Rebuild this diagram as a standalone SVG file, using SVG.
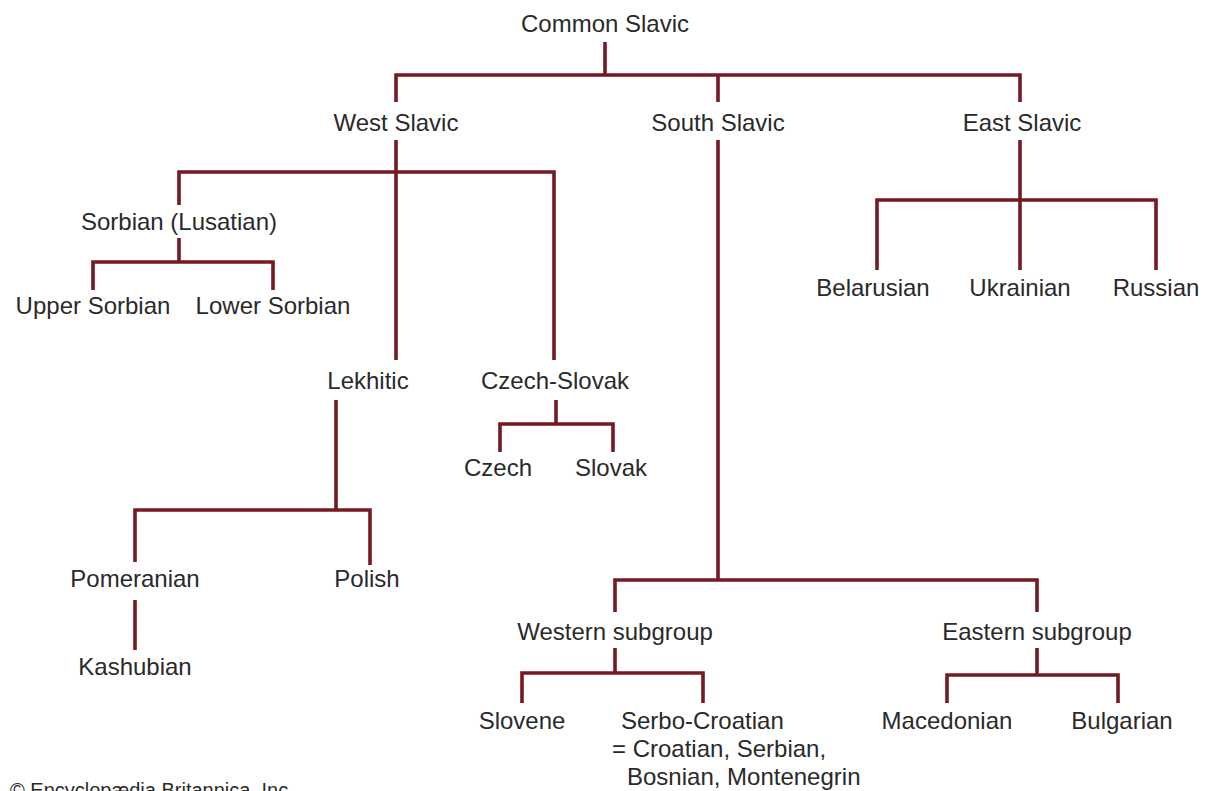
<svg xmlns="http://www.w3.org/2000/svg" width="1212" height="791" viewBox="0 0 1212 791">
<style>
.t{font-family:"Liberation Sans",Arial,sans-serif;font-size:24px;fill:#2a2a2a;text-anchor:middle}
.s{text-anchor:start}
.c{font-family:"Liberation Sans",Arial,sans-serif;font-size:20px;fill:#2a2a2a}
.l{fill:none;stroke:#761a22;stroke-width:3.6;stroke-linecap:butt;stroke-linejoin:miter}
</style>
<rect width="1212" height="791" fill="#fff"/>
<g id="connectors" class="l">
<path d="M605 42V75M396 102V75H1020V102M718 75V102"/>
<path d="M396 140V360M179 205V172H554V360"/>
<path d="M179 238V262M93 290V262H273V290"/>
<path d="M556 400V424M500 452V424H613V452"/>
<path d="M336 400V510M135 562V510H370V565"/>
<path d="M135 600V650"/>
<path d="M718 140V580M615 612V580H1037V612"/>
<path d="M615 648V673M522 703V673H703V703"/>
<path d="M1037 648V675M947 703V675H1118V703"/>
<path d="M1020 140V270M877 270V200H1156V270"/>
</g>
<g id="n-common"><text class="t" x="605" y="32">Common Slavic</text></g>
<g id="n-west"><text class="t" x="396" y="131">West Slavic</text></g>
<g id="n-south"><text class="t" x="718" y="131">South Slavic</text></g>
<g id="n-east"><text class="t" x="1022" y="131">East Slavic</text></g>
<g id="n-sorbian"><text class="t" x="179" y="230">Sorbian (Lusatian)</text></g>
<g id="n-upper"><text class="t" x="93" y="314">Upper Sorbian</text></g>
<g id="n-lower"><text class="t" x="273" y="314">Lower Sorbian</text></g>
<g id="n-lekhitic"><text class="t" x="368" y="389">Lekhitic</text></g>
<g id="n-czechslovak"><text class="t" x="555" y="389">Czech-Slovak</text></g>
<g id="n-czech"><text class="t" x="498" y="476">Czech</text></g>
<g id="n-slovak"><text class="t" x="611" y="476">Slovak</text></g>
<g id="n-pomeranian"><text class="t" x="135" y="587">Pomeranian</text></g>
<g id="n-polish"><text class="t" x="367" y="587">Polish</text></g>
<g id="n-kashubian"><text class="t" x="135" y="675">Kashubian</text></g>
<g id="n-belarusian"><text class="t" x="873" y="296">Belarusian</text></g>
<g id="n-ukrainian"><text class="t" x="1020" y="296">Ukrainian</text></g>
<g id="n-russian"><text class="t" x="1156" y="296">Russian</text></g>
<g id="n-western"><text class="t" x="615" y="640">Western subgroup</text></g>
<g id="n-eastern"><text class="t" x="1037" y="640">Eastern subgroup</text></g>
<g id="n-slovene"><text class="t" x="522" y="729">Slovene</text></g>
<g id="n-serbocroatian"><text class="t s" x="621" y="729">Serbo-Croatian</text><text class="t s" x="612" y="757">= Croatian, Serbian,</text><text class="t s" x="627" y="785">Bosnian, Montenegrin</text></g>
<g id="n-macedonian"><text class="t" x="947" y="729">Macedonian</text></g>
<g id="n-bulgarian"><text class="t" x="1122" y="729">Bulgarian</text></g>
<text class="c" x="10" y="797">© Encyclopædia Britannica, Inc.</text>
</svg>
